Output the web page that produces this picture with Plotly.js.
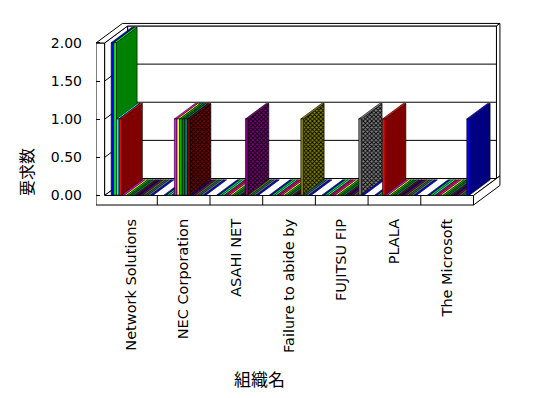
<!DOCTYPE html>
<html><head><meta charset="utf-8">
<script src="https://cdn.plot.ly/plotly-3.0.1.min.js"></script>
<style>html,body{margin:0;padding:0;background:#fff}#chart{width:548px;height:398px}</style>
</head><body><div id="chart"></div>
<script>
// ---- data ----
const categories = ["Network Solutions","NEC Corporation","ASAHI NET","Failure to abide by","FUJITSU FIP","PLALA","The Microsoft"];
const yTickVals = [0, 0.5, 1, 1.5, 2];
const yTickText = ["0.00","0.50","1.00","1.50","2.00"];
const s01 = [2,0,0,0,0,0,0];
const s02 = [2,0,0,0,0,0,0];
const s03 = [1,0,0,0,0,0,0];
const s04 = [1,0,0,0,0,1,0];
const s05 = [0,1,0,0,0,0,0];
const s06 = [0,1,0,0,0,0,0];
const s07 = [0,1,0,0,0,0,0];
const s08 = [0,1,0,0,0,0,0];
const s09 = [0,1,0,0,0,0,0];
const s10 = [0,1,0,0,0,0,0];
const s11 = [0,0,0,0,0,0,0];
const s12 = [0,0,1,0,0,0,0];
const s13 = [0,0,0,1,0,0,0];
const s14 = [0,0,0,0,0,0,0];
const s15 = [0,0,0,0,1,0,0];
const s16 = [0,0,0,0,0,0,1];
const seriesValues = [s01,s02,s03,s04,s05,s06,s07,s08,s09,s10,s11,s12,s13,s14,s15,s16];
const seriesColors = ["#0000FF","#00FF00","#00FFFF","#FF0000","#FF00FF","#FFFF00","#00C000","#008000",
                      "#008080","#800000","#000080","#800080","#808000","#008080","#808080","#0000FF"];

// ---- geometry (style) ----
const NCAT = categories.length;
const OX = 0.4364, OY = 0.2230;   // full depth offset in data units
const D0 = 0.02, D1 = 0.92;       // bar depth extent
const BAR_OFF = 0.1157, BAR_W = 0.0499;
const SLAB = 0.125, WALL = 0.163, TH = 0.15, YTOP = 2;

function rgb(hex){ const n = parseInt(hex.slice(1),16); return [(n>>16)&255,(n>>8)&255,n&255]; }
function shade(hex, f){ const c = rgb(hex).map(x => Math.round(x*f)); return 'rgb('+c.join(',')+')'; }

const traces = [];
function poly(xs, ys, fill, pattern){
  const t = {type:'scatter', mode:'lines', x: xs.concat([xs[0]]), y: ys.concat([ys[0]]),
    fill:'toself', fillcolor: fill, line:{color:'#000', width:0.6}, hoverinfo:'skip', showlegend:false};
  if (pattern) t.fillpattern = pattern;
  traces.push(t);
}
categories.forEach((cat, ci) => {
  seriesValues.forEach((vals, k) => {
    const v = vals[ci];
    const col = seriesColors[k];
    const x0 = ci + BAR_OFF + k*BAR_W + D0*OX, y0 = D0*OY;
    const x1 = x0 + BAR_W;
    const dx = (D1-D0)*OX, dy = (D1-D0)*OY;
    if (v > 0) {
      const dark = Math.max.apply(null, rgb(col)) < 255;
      if (dark) poly([x1, x1+dx, x1+dx, x1], [y0, y0+dy, y0+v+dy, y0+v], col,
                     {shape:'x', bgcolor: col, fgcolor:'#000', size:3, solidity:0.5});
      else poly([x1, x1+dx, x1+dx, x1], [y0, y0+dy, y0+v+dy, y0+v], shade(col, 0.5));
    }
    poly([x0, x1, x1+dx, x0+dx], [y0+v, y0+v, y0+v+dy, y0+v+dy], col);
    if (v > 0) poly([x0, x1, x1, x0], [y0, y0, y0+v, y0+v], col);
  });
});

// ---- walls / floor shapes ----
function path(pts){ return 'M' + pts.map(p => p[0]+','+p[1]).join('L') + 'Z'; }
const shapes = [];
const wallStyle = {type:'path', xref:'x', yref:'y', fillcolor:'#fff', line:{color:'#000', width:1}, layer:'below'};
const XR = NCAT;
shapes.push(Object.assign({}, wallStyle, {path: path([[OX,OY],[XR+OX,OY],[XR+OX,YTOP+OY],[OX,YTOP+OY]])}));
shapes.push(Object.assign({}, wallStyle, {path: path([[0,0],[OX,OY],[OX,YTOP+OY],[0,YTOP]])}));
shapes.push(Object.assign({}, wallStyle, {path: path([[0,0],[XR,0],[XR+OX,OY],[OX,OY]])}));
yTickVals.filter(v => v > 0 && v < YTOP).forEach(v => {
  shapes.push({type:'line', xref:'x', yref:'y', x0:OX, y0:v+OY, x1:XR+OX, y1:v+OY, line:{color:'#000', width:1}, layer:'below'});
  shapes.push({type:'line', xref:'x', yref:'y', x0:0, y0:v, x1:OX, y1:v+OY, line:{color:'#000', width:1}, layer:'below'});
});
shapes.push(Object.assign({}, wallStyle, {path: path([[-WALL,YTOP],[0,YTOP],[0,0],[XR,0],[XR,-SLAB],[-WALL,-SLAB]])}));
for (let i = 1; i < NCAT; i++) shapes.push({type:'line', xref:'x', yref:'y', x0:i, y0:0, x1:i, y1:-SLAB, line:{color:'#000', width:1}, layer:'below'});
const T = 1 + TH;
shapes.push(Object.assign({}, wallStyle, {path: path([[-WALL,YTOP],[0,YTOP],[OX,YTOP+OY],[XR+OX,YTOP+OY],[XR+OX*T,YTOP+OY*T],[-WALL+OX*T,YTOP+OY*T]])}));
shapes.push(Object.assign({}, wallStyle, {path: path([[XR+OX,OY],[XR+OX,YTOP+OY],[XR+OX*T,YTOP+OY*T],[XR+OX*T,OY*T]])}));
shapes.push(Object.assign({}, wallStyle, {path: path([[XR,0],[XR+OX*T,OY*T],[XR+OX*T,OY*T-SLAB],[XR,-SLAB]])}));

const layout = {
  width:548, height:398, margin:{l:96, r:43, t:15, b:183},
  paper_bgcolor:'#fff', plot_bgcolor:'rgba(0,0,0,0)', showlegend:false,
  xaxis:{range:[-0.1632, 7.598], tickvals: categories.map((c,i)=>i+0.5), ticktext: categories, tickangle:-90,
         showgrid:false, zeroline:false, showline:false, ticks:'', tickfont:{family:'DejaVu Sans', size:14.5, color:'#000'}, fixedrange:true},
  yaxis:{range:[-0.2557, 2.367], tickvals: yTickVals, ticktext: yTickText, ticks:'inside', ticklen:4, tickcolor:'#000',
         showgrid:false, zeroline:false, showline:false, tickfont:{family:'DejaVu Sans', size:14, color:'#000'}, ticklabelstandoff:13, fixedrange:true},
  shapes: shapes,
  annotations:[
    {text:'要求数', xref:'paper', yref:'paper', x:(26-96)/409, y:(215-172)/200, textangle:-90, showarrow:false,
     xanchor:'center', yanchor:'middle', font:{family:'Noto Sans CJK JP', size:16, color:'#000'}},
    {text:'組織名', xref:'paper', yref:'paper', x:(259-96)/409, y:(215-378)/200, showarrow:false,
     xanchor:'center', yanchor:'middle', font:{family:'Noto Sans CJK JP', size:17, color:'#000'}}
  ]
};
Plotly.newPlot('chart', traces, layout, {staticPlot:true, displayModeBar:false});
</script></body></html>
